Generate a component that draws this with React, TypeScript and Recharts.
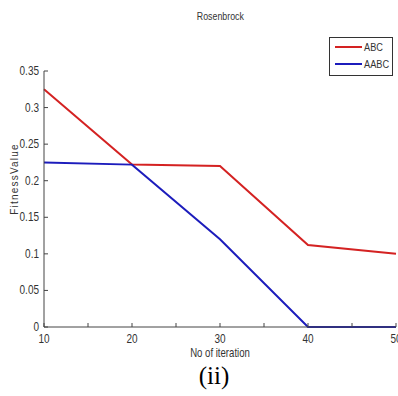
import { LineChart, Line, XAxis, YAxis, Legend } from 'recharts';

const iterations = [10, 20, 30, 40, 50];
const abcValues = [0.325, 0.222, 0.22, 0.112, 0.1];
const aabcValues = [0.225, 0.222, 0.12, 0, 0];
const xTicks = [10, 15, 20, 25, 30, 35, 40, 45, 50];
const yTicks = [0, 0.05, 0.1, 0.15, 0.2, 0.25, 0.3, 0.35];

const data = iterations.map((it, i) => ({ it, abc: abcValues[i], aabc: aabcValues[i] }));

const font = "Arial, 'Liberation Sans', sans-serif";

// matlab-ish condensed text: squeeze horizontally
const Narrow = ({ x, y, anchor = 'start', size = 12, children }: any) => (
  <text
    transform={`translate(${x},${y}) scale(0.8,1)`}
    textAnchor={anchor}
    fontSize={size}
    fontFamily={font}
    fill="#333"
  >
    {children}
  </text>
);

const YTick = ({ x, y, payload }: any) => (
  <g>
    <line x1={x + 4} x2={x + 8} y1={y} y2={y} stroke="#444" />
    <Narrow x={x - 1} y={y + 4} anchor="end" size={12.5}>{payload.value}</Narrow>
  </g>
);

const XTick = ({ x, y, payload }: any) => (
  <g>
    <line x1={x} x2={x} y1={y} y2={y - 4} stroke="#444" />
    {payload.value % 10 === 0 && (
      <Narrow x={x} y={y + 16} anchor="middle" size={12.5}>{payload.value}</Narrow>
    )}
  </g>
);

const LegendBox = () => (
  <svg width={65} height={40} style={{ display: 'block' }}>
    <rect x={0.5} y={0.5} width={63} height={38} fill="#fff" stroke="#333" />
    <line x1={6} x2={33} y1={10} y2={10} stroke="#d42222" strokeWidth={2} />
    <Narrow x={35} y={14} size={11.5}>ABC</Narrow>
    <line x1={6} x2={33} y1={27} y2={27} stroke="#1c1cbc" strokeWidth={2} />
    <Narrow x={35} y={31} size={11.5}>AABC</Narrow>
  </svg>
);

const YLabel = () => (
  <text
    transform="translate(18,179) rotate(-90)"
    textAnchor="middle"
    fontSize={10}
    fontFamily={font}
    letterSpacing={1.2}
    fill="#333"
  >
    FitnessValue
  </text>
);

const XLabel = () => <Narrow x={220} y={357} anchor="middle" size={12}>No of iteration</Narrow>;

export default function App() {
  return (
    <div style={{ position: 'absolute', left: 0, top: 0, width: 398, height: 396, background: '#fff' }}>
      <div
        style={{
          position: 'absolute', left: 0, top: 10, width: 440, textAlign: 'center',
          fontFamily: font, fontSize: 11, color: '#333',
        }}
      >
        <span style={{ display: 'inline-block', transform: 'scaleX(0.8)' }}>Rosenbrock</span>
      </div>
      <LineChart width={398} height={396} data={data} margin={{ top: 31, right: 2, left: 0, bottom: 0 }}>
        <XAxis
          dataKey="it"
          type="number"
          domain={[10, 50]}
          ticks={xTicks}
          interval={0}
          height={69}
          tickSize={0}
          tickMargin={0}
          tick={<XTick />}
          stroke="#444"
          label={{ content: <XLabel /> }}
        />
        <YAxis
          type="number"
          domain={[0, 0.35]}
          ticks={yTicks}
          interval={0}
          width={44}
          tickSize={0}
          tickMargin={4}
          tick={<YTick />}
          stroke="#444"
          label={{ content: <YLabel /> }}
        />
        <Legend
          verticalAlign="top"
          align="right"
          content={<LegendBox />}
          wrapperStyle={{ position: 'absolute', top: 37, left: 329, width: 65 }}
        />
        <Line type="linear" dataKey="abc" stroke="#d42222" strokeWidth={2} dot={false} isAnimationActive={false} />
        <Line type="linear" dataKey="aabc" stroke="#1c1cbc" strokeWidth={2} dot={false} isAnimationActive={false} />
      </LineChart>
      <div
        style={{
          position: 'absolute', left: 0, top: 362, width: 428, textAlign: 'center',
          fontFamily: "'Liberation Serif', 'Times New Roman', serif", fontSize: 25, color: '#000',
        }}
      >
        (ii)
      </div>
    </div>
  );
}
